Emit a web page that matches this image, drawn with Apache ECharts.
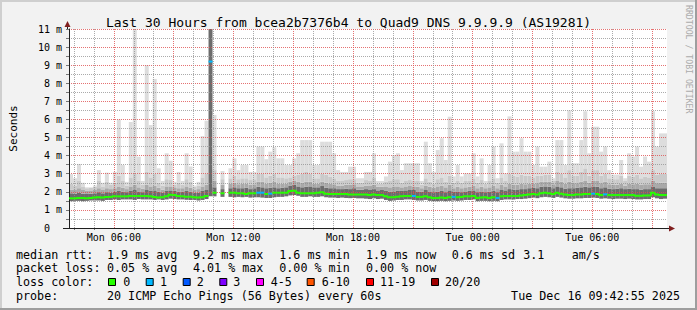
<!DOCTYPE html>
<html><head><meta charset="utf-8">
<script src="https://cdn.jsdelivr.net/npm/echarts@6/dist/echarts.min.js"></script>
<style>html,body{margin:0;padding:0;background:#f2f2f2;}#c{width:697px;height:310px;}</style>
</head><body><div id="c"></div>
<script>
// ---- data (values in milliseconds, 12-minute bins starting Mon 03:45) ----
const startHour = 3.75;
const binHours = 0.2;
const maxv = [2.98,2.75,3.54,2.5,2.25,2.25,2.35,3.2,2.5,3.06,
 2.5,3.1,6.0,3.48,2.55,5.86,11,3.94,2.6,9.0,
 5.69,8.24,3.3,2.6,4.13,3.72,2.55,3.1,2.6,4.13,
 3.4,2.35,2.55,5.08,5.93,11,6.25,null,3.15,null,
 3.3,3.85,3.2,3.48,3.48,3.1,3.1,4.5,4.5,3.8,
 4.22,4.46,3.85,3.85,3.48,3.48,3.85,4.13,4.86,4.86,
 4.86,3.48,3.48,4.77,4.77,4.77,4.13,3.2,3.1,3.1,
 3.39,3.39,2.75,2.75,3.1,3.1,4.13,2.6,2.6,2.85,
 3.67,4.03,4.13,3.2,3.58,3.58,3.58,3.58,2.6,4.77,
 3.58,3.1,4.31,4.96,3.76,6.15,2.85,3.48,2.85,3.02,
 3.02,4.13,2.85,3.85,2.6,3.48,4.5,2.75,4.68,3.02,
 6.17,4.22,4.22,4.96,4.22,4.22,3.48,4.5,3.39,3.39,
 3.67,2.75,4.86,4.86,3.48,6.5,3.58,3.58,4.86,6.45,
 4.13,5.6,5.6,4.22,4.5,3.2,2.95,2.95,3.76,2.75,
 4.13,3.95,4.5,3.39,3.95,3.67,6.45,4.5,5.23,5.23];
const upTop = [2.45,2.35,2.6,2.3,2.2,2.22,2.28,2.6,2.3,2.55,
 2.4,2.5,2.9,2.6,2.35,2.8,3.0,2.6,2.4,3.1,
 2.8,3.0,2.5,2.35,2.7,2.65,2.4,2.5,2.4,2.7,
 2.55,2.28,2.35,2.8,3.0,11,3.2,null,2.7,null,
 2.75,2.9,2.7,2.75,2.75,2.65,2.7,3.0,3.0,2.8,
 2.9,3.0,2.8,2.8,2.75,2.8,2.9,2.95,3.0,3.1,
 3.0,2.75,2.75,3.0,2.95,2.85,2.75,2.6,2.6,2.65,
 2.7,2.7,2.5,2.5,2.65,2.6,2.8,2.45,2.45,2.55,
 2.6,2.7,2.7,2.5,2.6,2.65,2.6,2.6,2.4,2.75,
 2.55,2.45,2.7,2.8,2.55,2.9,2.5,2.6,2.5,2.6,
 2.6,2.75,2.5,2.65,2.45,2.6,2.75,2.5,2.8,2.6,
 3.0,2.9,2.85,2.95,2.9,2.9,2.8,2.9,2.9,2.95,
 2.95,2.6,3.1,3.0,2.8,3.2,2.9,2.9,3.1,3.3,
 2.9,3.2,3.2,2.9,3.0,2.75,2.7,2.7,2.9,2.6,
 2.9,2.85,2.95,2.75,2.85,2.8,3.2,2.95,3.0,3.0];
const midTop = [2.12,2.1,2.2,2.1,2.05,2.08,2.1,2.2,2.1,2.2,
 2.15,2.2,2.3,2.22,2.15,2.3,2.4,2.25,2.18,2.4,
 2.3,2.35,2.22,2.12,2.3,2.3,2.25,2.2,2.2,2.3,
 2.22,2.12,2.15,2.3,2.4,11,2.6,null,2.4,null,
 2.45,2.5,2.42,2.45,2.45,2.38,2.42,2.55,2.55,2.45,
 2.5,2.55,2.45,2.45,2.45,2.55,2.6,2.55,2.5,2.55,
 2.55,2.45,2.45,2.55,2.5,2.45,2.42,2.35,2.35,2.4,
 2.38,2.42,2.3,2.3,2.35,2.32,2.4,2.28,2.28,2.3,
 2.25,2.3,2.3,2.25,2.3,2.32,2.3,2.28,2.2,2.35,
 2.28,2.22,2.3,2.35,2.25,2.4,2.2,2.28,2.2,2.25,
 2.28,2.35,2.2,2.28,2.2,2.25,2.35,2.2,2.38,2.3,
 2.45,2.4,2.4,2.45,2.42,2.45,2.45,2.48,2.55,2.55,
 2.55,2.42,2.6,2.55,2.45,2.55,2.48,2.48,2.55,2.6,
 2.5,2.6,2.6,2.48,2.55,2.42,2.38,2.4,2.45,2.35,
 2.45,2.42,2.45,2.38,2.42,2.42,2.6,2.48,2.5,2.5];
const darkTop = [1.92,1.9,1.95,1.9,1.88,1.9,1.92,1.98,1.92,1.98,
 1.95,2.0,2.05,2.0,1.98,2.05,2.1,2.02,1.98,2.1,
 2.05,2.08,2.0,1.95,2.05,2.08,2.05,2.0,2.0,2.05,
 2.0,1.95,1.95,2.05,2.1,11,2.25,null,2.15,null,
 2.2,2.25,2.2,2.2,2.22,2.15,2.2,2.28,2.25,2.2,
 2.22,2.25,2.2,2.22,2.25,2.35,2.38,2.3,2.25,2.28,
 2.3,2.25,2.25,2.32,2.22,2.2,2.2,2.15,2.15,2.18,
 2.15,2.2,2.12,2.12,2.15,2.1,2.15,2.08,2.1,2.05,
 2.0,2.02,2.05,2.05,2.08,2.1,2.1,2.02,2.0,2.1,
 2.02,1.98,2.0,2.05,1.98,2.08,2.0,2.02,1.98,2.02,
 2.05,2.08,1.98,2.02,1.98,2.0,2.05,1.98,2.1,2.08,
 2.15,2.12,2.1,2.15,2.15,2.2,2.22,2.2,2.28,2.3,
 2.28,2.2,2.3,2.25,2.18,2.2,2.2,2.22,2.25,2.28,
 2.25,2.3,2.28,2.2,2.25,2.18,2.15,2.18,2.2,2.15,
 2.18,2.15,2.15,2.12,2.15,2.15,2.3,2.2,2.2,2.2];
const minv = [1.48,1.5,1.5,1.48,1.5,1.52,1.52,1.52,1.5,1.55,
 1.55,1.58,1.55,1.58,1.58,1.58,1.55,1.6,1.58,1.58,
 1.58,1.55,1.58,1.55,1.58,1.62,1.6,1.58,1.58,1.56,
 1.55,1.55,1.52,1.55,1.6,1.75,1.75,null,1.72,null,
 1.72,1.7,1.72,1.7,1.72,1.68,1.7,1.7,1.68,1.66,
 1.66,1.7,1.72,1.72,1.75,1.8,1.82,1.78,1.72,1.72,
 1.75,1.72,1.72,1.75,1.7,1.68,1.68,1.66,1.68,1.66,
 1.65,1.66,1.64,1.64,1.62,1.6,1.64,1.6,1.62,1.55,
 1.5,1.52,1.55,1.55,1.58,1.58,1.55,1.52,1.52,1.55,
 1.5,1.48,1.48,1.5,1.48,1.5,1.52,1.5,1.52,1.55,
 1.55,1.58,1.48,1.5,1.5,1.48,1.5,1.48,1.55,1.58,
 1.58,1.58,1.6,1.6,1.62,1.65,1.68,1.65,1.7,1.72,
 1.7,1.66,1.72,1.68,1.64,1.62,1.62,1.64,1.64,1.66,
 1.66,1.68,1.66,1.62,1.64,1.62,1.6,1.62,1.62,1.6,
 1.62,1.6,1.58,1.58,1.6,1.6,1.7,1.64,1.6,1.62];
const median = [1.64,1.64,1.66,1.66,1.64,1.66,1.68,1.70,1.68,1.72,
 1.72,1.75,1.75,1.75,1.75,1.77,1.77,1.77,1.77,1.77,
 1.75,1.72,1.68,1.70,1.75,1.84,1.82,1.77,1.75,1.73,
 1.73,1.70,1.68,1.70,1.77,9.2,1.95,null,1.92,null,
 1.95,1.95,1.92,1.92,1.88,1.92,1.92,1.95,1.95,1.88,
 1.90,1.95,1.95,1.95,1.95,2.05,2.06,1.95,1.92,1.92,
 1.92,1.92,1.95,1.98,1.90,1.88,1.88,1.88,1.88,1.88,
 1.85,1.85,1.85,1.85,1.85,1.82,1.85,1.82,1.82,1.75,
 1.70,1.70,1.73,1.75,1.77,1.77,1.77,1.72,1.72,1.75,
 1.70,1.66,1.66,1.68,1.66,1.70,1.72,1.70,1.72,1.75,
 1.75,1.77,1.66,1.68,1.70,1.66,1.70,1.66,1.75,1.77,
 1.77,1.77,1.77,1.80,1.82,1.85,1.88,1.85,1.92,1.95,
 1.92,1.88,1.95,1.90,1.85,1.82,1.82,1.85,1.85,1.88,
 1.88,1.90,1.88,1.82,1.86,1.82,1.82,1.82,1.82,1.82,
 1.82,1.82,1.78,1.78,1.80,1.80,1.95,1.85,1.82,1.82];
const lossPings = [0,0,0,0,0,0,0,0,0,0,
 0,0,0,0,0,0,0,0,0,0,
 0,0,0,0,0,0,0,0,0,0,
 0,0,0,0,0,1,0,null,0,null,
 0,0,0,0,0,0,0,1,1,0,
 1,0,0,0,0,0,0,0,0,0,
 0,0,0,0,0,0,0,0,0,0,
 0,0,0,0,0,0,0,0,0,0,
 0,0,0,0,0,0,1,0,0,0,
 0,0,0,0,0,0,1,0,0,0,
 0,0,0,0,0,0,0,1,0,0,
 0,0,0,0,0,0,0,0,0,0,
 0,0,0,0,0,0,0,0,0,0,
 0,1,0,0,1,0,0,0,0,0,
 0,0,0,0,0,0,0,0,0,0];

const tickLabels = ['Mon 06:00','Mon 12:00','Mon 18:00','Tue 00:00','Tue 06:00'];
const tickLabelHours = [6,12,18,24,30];
const lossNames = ['0','1','2','3','4-5','6-10','11-19','20/20'];
const lossUpper = [0,1,2,3,5,10,19,20];
const lossColors = ['#26ff00','#00b8ff','#0059ff','#7e00ff','#ff00ff','#ff5500','#ff0000','#a00000'];
const rttStats = ['1.9 ms avg','9.2 ms max','1.6 ms min','1.9 ms now','0.6 ms sd','3.1','am/s'];
const lossStats = ['0.05 % avg','4.01 % max','0.00 % min','0.00 % now'];
const titleText = 'Last 30 Hours from bcea2b7376b4 to Quad9 DNS 9.9.9.9 (AS19281)';
const probeText = '20 ICMP Echo Pings (56 Bytes) every 60s';
const dateText = 'Tue Dec 16 09:42:55 2025';

// ---- styling / layout ----
const MONO = '"DejaVu Sans Mono", monospace';
const smokeColors = ['#6c6c6c', '#a9a9a9', '#cacaca', '#dddddd'];
const minorGrid = 'rgba(143,143,143,0.75)';
const majorGrid = 'rgba(222,79,79,0.8)';

function lossColor(n) {
  for (let k = 0; k < lossUpper.length; k++) if (n <= lossUpper[k]) return lossColors[k];
  return lossColors[lossColors.length - 1];
}

const smokeData = [];
const medianData = [];
for (let i = 0; i < maxv.length; i++) {
  const x0 = startHour + i * binHours;
  if (maxv[i] != null) smokeData.push([x0, minv[i], darkTop[i], midTop[i], upTop[i], maxv[i]]);
  if (median[i] != null) {
    let prev = '-';
    if (i > 0 && median[i - 1] != null && lossColor(lossPings[i - 1]) === lossColor(lossPings[i])) prev = median[i - 1];
    medianData.push([x0, median[i], lossPings[i], prev]);
  }
}

const hourTicks = [];
const majorTicks = [];
for (let h = 4; h <= 33; h++) { if (h % 3 === 0) majorTicks.push(h); else hourTicks.push(h); }

function renderSmoke(params, api) {
  const x0 = api.value(0), x1 = x0 + binHours;
  const v = [api.value(1), api.value(2), api.value(3), api.value(4), api.value(5)];
  const children = [];
  for (let k = 0; k < 4; k++) {
    const lo = api.coord([x0, v[k]]);
    const hi = api.coord([x1, v[k + 1]]);
    children.push({ type: 'rect', shape: { x: lo[0], y: hi[1], width: hi[0] - lo[0], height: lo[1] - hi[1] },
      style: { fill: smokeColors[k] } });
  }
  return { type: 'group', children };
}

function renderMedian(params, api) {
  const x0 = api.value(0), x1 = x0 + binHours;
  const m = api.value(1), loss = api.value(2), pm = api.value(3);
  const pts = [];
  if (!isNaN(pm)) pts.push(api.coord([x0, pm]));
  pts.push(api.coord([x0, m]), api.coord([x1, m]));
  return { type: 'polyline', shape: { points: pts }, style: { stroke: lossColor(loss), lineWidth: 2, fill: null } };
}

// decorations and legend graphics
const g = [];
g.push({ type: 'rect', shape: { x: 0, y: 0, width: 697, height: 2 }, style: { fill: '#cfcfcf' }, silent: true });
g.push({ type: 'rect', shape: { x: 0, y: 0, width: 2, height: 310 }, style: { fill: '#cfcfcf' }, silent: true });
g.push({ type: 'rect', shape: { x: 0, y: 308, width: 697, height: 2 }, style: { fill: '#9e9e9e' }, silent: true });
g.push({ type: 'rect', shape: { x: 695, y: 0, width: 2, height: 310 }, style: { fill: '#9e9e9e' }, silent: true });
g.push({ type: 'line', shape: { x1: 67.5, y1: 26, x2: 67.5, y2: 29 }, style: { stroke: '#1f1f1f', lineWidth: 1 }, z: 10 });
g.push({ type: 'line', shape: { x1: 63, y1: 228.5, x2: 670, y2: 228.5 }, style: { stroke: '#1f1f1f', lineWidth: 1 }, z: 10 });
g.push({ type: 'polygon', shape: { points: [[64.5, 27], [70.5, 27], [67.5, 21]] }, style: { fill: '#801f1f' }, z: 11 });
g.push({ type: 'polygon', shape: { points: [[669, 225.5], [669, 231.5], [675, 228.5]] }, style: { fill: '#801f1f' }, z: 11 });

function txt(text, x, y, opts) {
  return Object.assign({ type: 'text', x: x, y: y, silent: true, z: 20,
    style: Object.assign({ text: text, font: '11.7px ' + MONO, fill: '#000', align: 'left', verticalAlign: 'middle',
      textAlign: 'left', textVerticalAlign: 'middle' }, (opts && opts.style) || {}) }, (opts && opts.el) || {});
}
const row = [254.7, 268.3, 282.2, 296];
const colX = [107, 193, 279.3, 366, 451.7, 523.3, 571.7];
g.push(txt('median rtt:', 16, row[0]));
rttStats.forEach((s, k) => g.push(txt(s, colX[k], row[0])));
g.push(txt('packet loss:', 16, row[1]));
lossStats.forEach((s, k) => g.push(txt(s, colX[k], row[1])));
g.push(txt('loss color:', 16, row[2]));
const boxX = [108, 145.7, 182.7, 219.3, 256, 306.7, 366, 431];
const boxLabelX = [123.3, 160, 196.7, 233.3, 270.7, 321.7, 380, 445];
lossNames.forEach((name, k) => {
  g.push({ type: 'rect', shape: { x: boxX[k] + 0.5, y: 278.5, width: 7, height: 7 },
    style: { fill: lossColors[k], stroke: '#000', lineWidth: 1 }, z: 20, silent: true });
  g.push(txt(name, boxLabelX[k], row[2]));
});
g.push(txt('probe:', 16, row[3]));
g.push(txt(probeText, 107, row[3]));
g.push(txt(dateText, 680, row[3], { style: { align: 'right', textAlign: 'right' } }));
g.push(txt('RRDTOOL / TOBI OETIKER', 689, 5, { style: { font: '8.2px ' + MONO, fill: '#ababab' }, el: { rotation: -Math.PI / 2 } }));

const chart = echarts.init(document.getElementById('c'), null, { renderer: 'svg', width: 697, height: 310 });
chart.setOption({
  animation: false,
  backgroundColor: '#f2f2f2',
  title: { text: titleText, left: 'center', top: 11,
    textStyle: { fontFamily: MONO, fontSize: 13, fontWeight: 'normal', color: '#000' } },
  grid: { left: 67, top: 29, width: 600, height: 199, show: true, backgroundColor: '#ffffff', borderWidth: 0 },
  xAxis: [
    { type: 'value', position: 'bottom', min: startHour, max: startHour + 30, z: 3,
      axisLine: { show: true, lineStyle: { color: '#1f1f1f', width: 1 } },
      axisTick: { show: true, customValues: hourTicks, length: 2, lineStyle: { color: '#777' } },
      axisLabel: { show: false },
      splitLine: { show: true, lineStyle: { color: minorGrid, width: 1, type: [1, 1] } } },
    { type: 'value', position: 'bottom', offset: 0, min: startHour, max: startHour + 30, z: 3,
      axisLine: { show: false },
      axisTick: { show: false, customValues: majorTicks },
      axisLabel: { show: true, customValues: tickLabelHours, margin: 4,
        fontFamily: MONO, fontSize: 10, color: '#000',
        formatter: (v) => { const k = tickLabelHours.indexOf(Math.round(v)); return k >= 0 ? tickLabels[k] : ''; } },
      splitLine: { show: true, lineStyle: { color: majorGrid, width: 1, type: [1, 1] } } }
  ],
  yAxis: { type: 'value', min: 0, max: 11, interval: 1, z: 3,
    name: 'Seconds', nameLocation: 'middle', nameGap: 50, nameRotate: 90,
    nameTextStyle: { fontFamily: MONO, fontSize: 11, color: '#000' },
    axisLine: { show: true, lineStyle: { color: '#1f1f1f', width: 1 } },
    axisTick: { show: true, length: 3, lineStyle: { color: '#777' } },
    minorTick: { show: true, splitNumber: 2, length: 3, lineStyle: { color: '#777' } },
    axisLabel: { margin: 7, fontFamily: MONO, fontSize: 10, color: '#000',
      formatter: (v) => v === 0 ? '{z|0}' : v + ' m',
      rich: { z: { fontFamily: MONO, fontSize: 10, color: '#000', padding: [0, 12, 0, 0] } } },
    splitLine: { show: true, lineStyle: { color: majorGrid, width: 1, type: [1, 1] } },
    minorSplitLine: { show: true, lineStyle: { color: minorGrid, width: 1, type: [1, 1] } } },
  series: [
    { type: 'custom', name: 'smoke', xAxisIndex: 0, yAxisIndex: 0, z: 2, clip: true, silent: true,
      renderItem: renderSmoke, encode: { x: 0, y: [1, 2, 3, 4, 5] }, data: smokeData },
    { type: 'custom', name: 'median rtt', xAxisIndex: 0, yAxisIndex: 0, z: 5, clip: true, silent: true,
      renderItem: renderMedian, encode: { x: 0, y: 1 }, data: medianData }
  ],
  graphic: g
});
</script>
</body></html>
